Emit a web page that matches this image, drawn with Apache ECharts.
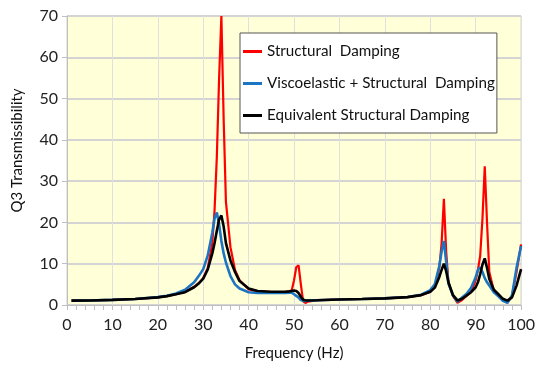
<!DOCTYPE html>
<html>
<head>
<meta charset="utf-8">
<script src="https://cdn.jsdelivr.net/npm/echarts@6/dist/echarts.min.js"></script>
<style>
  html, body { margin: 0; padding: 0; background: #fff; }
  #chart { width: 538px; height: 366px; }
</style>
</head>
<body>
<div id="chart"></div>
<script>
const freq = [1, 5, 10, 15, 20, 22, 24, 26, 28, 29, 30, 31, 32, 32.5, 33, 33.5, 34, 34.5, 35, 36,
  37, 38, 40, 42, 45, 48, 49, 49.5, 50, 50.5, 51, 51.5, 52, 52.5, 53, 55, 60, 65, 70, 75,
  78, 80, 81, 82, 82.5, 83, 83.5, 84, 85, 86, 87, 88, 89, 90, 90.5, 91, 91.5, 92, 92.5, 93,
  94, 95, 96, 97, 98, 99, 100];

const structural = [1.05, 1.1, 1.25, 1.45, 1.85, 2.15, 2.6, 3.2, 4.4, 5.3, 6.5, 9, 15, 23, 36, 55, 70, 45, 25, 14,
  8.5, 6, 3.8, 3.3, 3.1, 3.1, 3.3, 3.6, 6, 9.2, 9.6, 5, 0.9, 0.5, 0.8, 1.15, 1.35, 1.45, 1.6, 1.9,
  2.4, 3.2, 4.3, 9, 15, 25.7, 13, 5.5, 2.2, 0.5, 1.2, 2.2, 3.2, 6, 8.5, 12, 21, 33.6, 20, 8,
  3.5, 2.3, 1.2, 0.6, 2.2, 8, 14.7];

const viscoelastic = [1.05, 1.1, 1.25, 1.45, 1.9, 2.25, 2.8, 3.7, 5.5, 7, 8.7, 12, 17.5, 21, 22.4, 19.5, 15.5, 12.5, 10.3, 7,
  5, 4, 3.1, 2.9, 2.9, 2.9, 3.0, 3.0, 2.6, 2.2, 1.8, 1.2, 1.0, 1.0, 1.05, 1.15, 1.35, 1.45, 1.6, 1.95,
  2.5, 3.6, 5, 9.5, 13, 15.5, 10.5, 5.2, 2.3, 0.8, 1.8, 2.7, 4.2, 6.7, 8.5, 9.1, 8, 6.5, 5.5, 4.7,
  3.1, 2.1, 1.0, 0.5, 2.3, 9, 14.3];

const equivalent = [1.05, 1.1, 1.25, 1.45, 1.85, 2.15, 2.6, 3.1, 4.3, 5.2, 6.4, 8.6, 12.5, 15, 18, 20.7, 21.7, 19, 15, 10.8,
  8, 5.8, 4.0, 3.4, 3.2, 3.2, 3.3, 3.4, 3.5, 3.4, 2.9, 2.0, 1.3, 1.15, 1.1, 1.15, 1.35, 1.45, 1.6, 1.9,
  2.4, 3.2, 4.2, 6.8, 8.5, 10, 8.2, 5.5, 2.4, 1.1, 1.5, 2.3, 3.1, 4.3, 5.5, 7.5, 9.8, 11.3, 9, 6.3,
  3.7, 2.6, 1.5, 1.05, 1.85, 4.7, 8.7];

const seriesNames = ['Structural  Damping', 'Viscoelastic + Structural  Damping', 'Equivalent Structural Damping'];

const pairs = vals => freq.map((f, i) => [f, vals[i]]);
const font = 'Lato, "Open Sans", sans-serif';

const chart = echarts.init(document.getElementById('chart'));
chart.setOption({
  animation: false,
  textStyle: { fontFamily: font },
  grid: {
    left: 67, right: 12, top: 16, bottom: 60,
    show: true,
    backgroundColor: '#FFFFD8',
    borderColor: '#D0D0D0',
    borderWidth: 1
  },
  legend: {
    orient: 'vertical',
    left: 240,
    top: 33,
    data: seriesNames,
    icon: 'rect',
    backgroundColor: '#fff',
    borderColor: '#555',
    borderWidth: 1,
    borderRadius: 0,
    padding: [10, 2, 9, 3],
    itemWidth: 19,
    itemHeight: 3,
    itemGap: 15,
    textStyle: { fontSize: 15.2, color: '#111', fontFamily: font, lineHeight: 17 }
  },
  xAxis: {
    type: 'value',
    min: 0, max: 100, interval: 10,
    name: 'Frequency (Hz)',
    nameLocation: 'middle',
    nameGap: 41,
    nameTextStyle: { fontSize: 15, color: '#111' },
    axisLine: { lineStyle: { color: '#BFBFBF' } },
    axisTick: { show: true, length: 5, lineStyle: { color: '#BFBFBF' } },
    minorTick: { show: true, splitNumber: 5, length: 5, lineStyle: { color: '#BFBFBF' } },
    axisLabel: { fontSize: 16, color: '#222', margin: 12 },
    splitLine: { show: true, lineStyle: { color: '#E0E0E0', width: 1 } }
  },
  yAxis: {
    type: 'value',
    min: 0, max: 70, interval: 10,
    name: 'Q3 Transmissibility',
    nameLocation: 'middle',
    nameGap: 42,
    nameTextStyle: { fontSize: 15, color: '#111', padding: [0, 0, 0, 20] },
    axisLine: { show: true, lineStyle: { color: '#BFBFBF' } },
    axisTick: { show: true, length: 5, lineStyle: { color: '#BFBFBF' } },
    axisLabel: { fontSize: 16, color: '#222', margin: 9 },
    splitLine: { show: true, lineStyle: { color: '#D4D4D4', width: 2 } }
  },
  series: [
    { name: seriesNames[0], type: 'line', data: pairs(structural), symbol: 'none', lineStyle: { color: '#FF0000', width: 2.2 }, itemStyle: { color: '#FF0000' }, z: 2 },
    { name: seriesNames[1], type: 'line', data: pairs(viscoelastic), symbol: 'none', lineStyle: { color: '#1B75C2', width: 2.6 }, itemStyle: { color: '#1B75C2' }, z: 3 },
    { name: seriesNames[2], type: 'line', data: pairs(equivalent), symbol: 'none', lineStyle: { color: '#000000', width: 2.6 }, itemStyle: { color: '#000000' }, z: 4 }
  ]
});
</script>
</body>
</html>
